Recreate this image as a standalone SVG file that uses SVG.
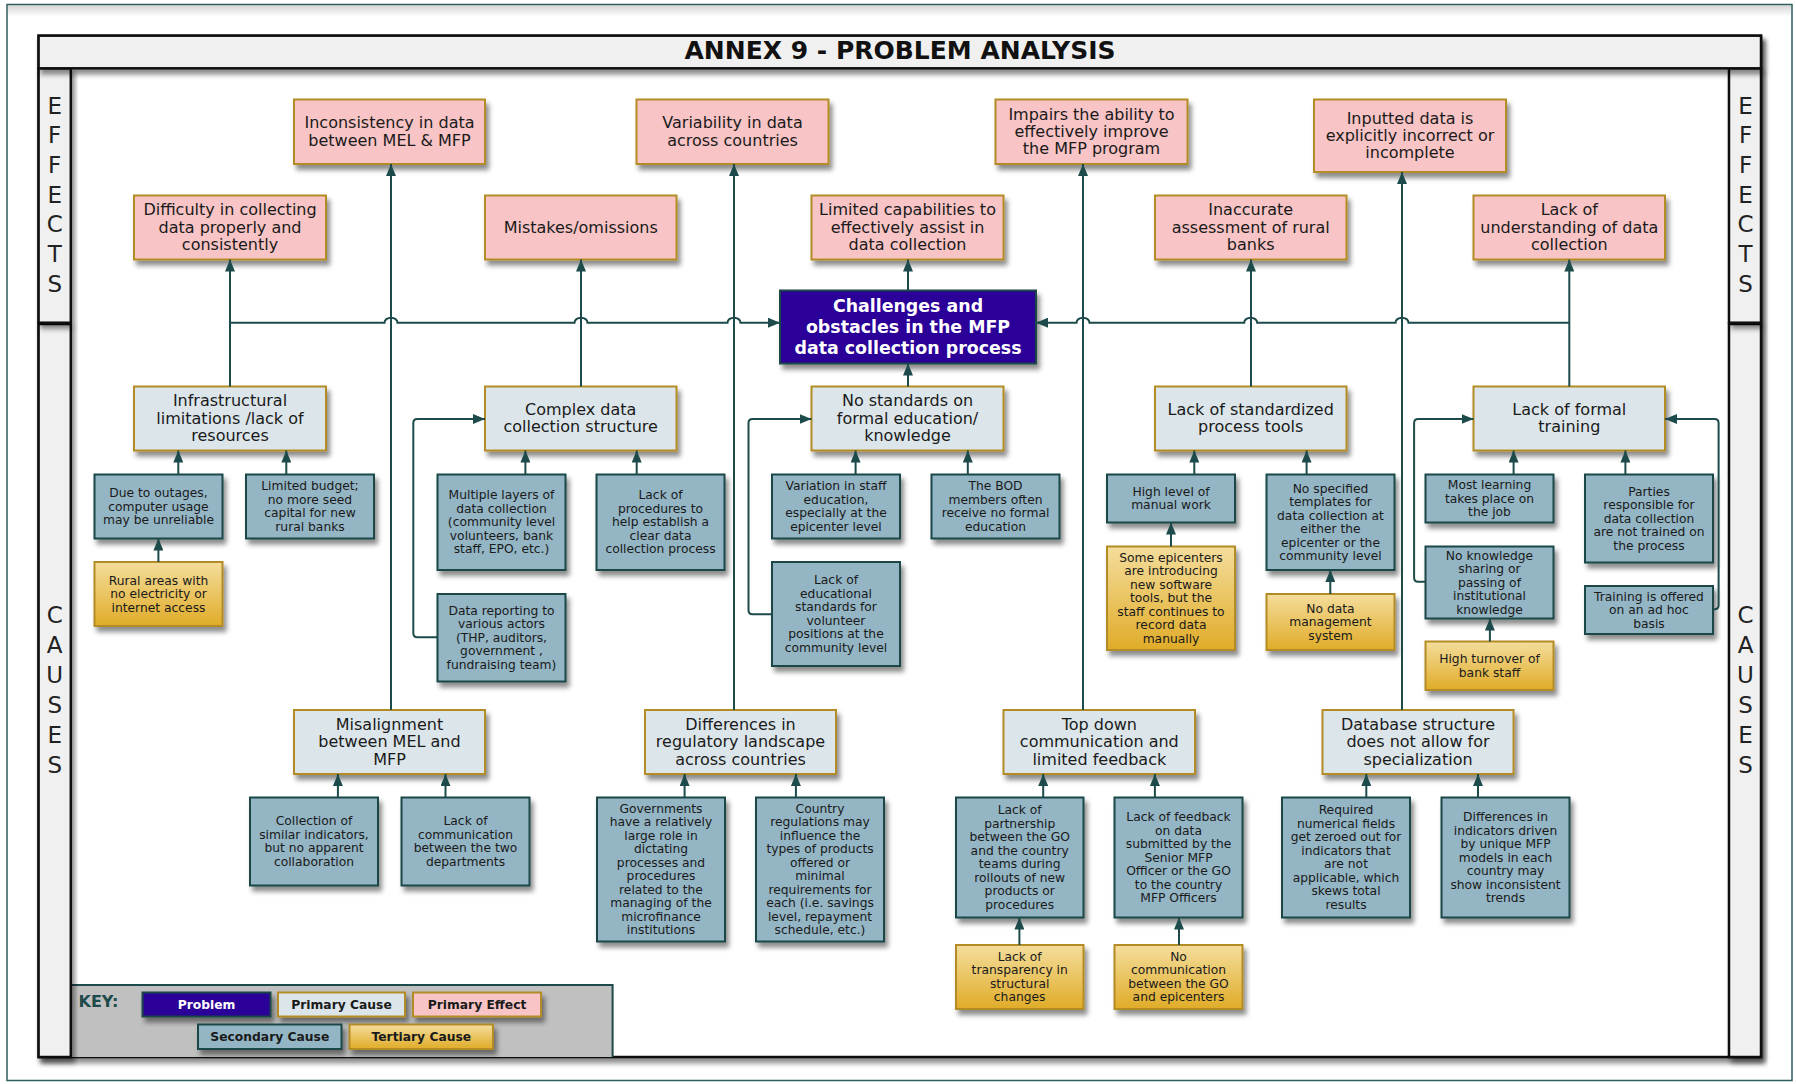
<svg xmlns="http://www.w3.org/2000/svg" width="1796" height="1084" viewBox="0 0 1796 1084">
<defs>
  <filter id="sh" x="-10%" y="-10%" width="130%" height="150%">
    <feDropShadow dx="3" dy="5" stdDeviation="2.5" flood-color="#000" flood-opacity="0.45"/>
  </filter>
  <linearGradient id="gold" x1="0" y1="0" x2="0" y2="1">
    <stop offset="0" stop-color="#f4dd9c"/>
    <stop offset="1" stop-color="#e0ac28"/>
  </linearGradient>
  <linearGradient id="topShade" x1="0" y1="0" x2="0" y2="1">
    <stop offset="0" stop-color="#d6d6d6"/>
    <stop offset="1" stop-color="#ffffff"/>
  </linearGradient>
  <marker id="ah" viewBox="0 0 12 10" refX="12" refY="5" markerWidth="12" markerHeight="10" markerUnits="userSpaceOnUse" orient="auto">
    <path d="M0,0 L12,5 L0,10 z" fill="#1d4a4a"/>
  </marker>
  <style>
    text{font-family:"DejaVu Sans",Verdana,sans-serif;text-anchor:middle;fill:#1a1a1a}
    .node>rect{filter:url(#sh)}
    .eff>rect{fill:#f8c4c5;stroke:#b48c27;stroke-width:2}
    .pc>rect{fill:#dce6ea;stroke:#b48c27;stroke-width:2}
    .sc>rect{fill:#93b5c4;stroke:#1c4646;stroke-width:2}
    .tc>rect{fill:url(#gold);stroke:#b48c27;stroke-width:2}
    .prob>rect{fill:#2a0099;stroke:#1c4646;stroke-width:2}
    .prob text{fill:#ffffff;font-weight:bold;font-size:17.4px}
    .lg text{font-size:16px}
    .sm text{font-size:12.3px}
    .key text{font-size:12.3px;font-weight:bold}
    .side text{font-size:23px;fill:#222}
    .panel{fill:#f0f0f0;stroke:#111;stroke-width:2.5;filter:url(#sh)}
    #connectors path{fill:none;stroke:#1d4a4a;stroke-width:2}
    #connectors .arr{marker-end:url(#ah)}
  </style>
</defs>

<!-- page background and border -->
<rect x="0" y="0" width="1796" height="1084" fill="#ffffff"/>
<rect x="8" y="5.5" width="1783" height="11" fill="url(#topShade)"/>
<rect x="7" y="4.5" width="1785" height="1076" fill="none" stroke="#2f5c5c" stroke-width="1.5"/>

<!-- main frame -->
<g id="frame">
  <rect x="38.6" y="35.7" width="1722.4" height="1021.3" fill="#ffffff" stroke="#111" stroke-width="2.5" filter="url(#sh)"/>
  <rect x="71" y="985" width="541.6" height="72" fill="#c0c0c0"/>
  <path d="M71,985 H612.6 V1057" fill="none" stroke="#1d4a4a" stroke-width="2"/>
  <rect class="panel" x="38.6" y="324" width="32.2" height="733"/>
  <rect class="panel" x="38.6" y="68.3" width="32.2" height="254.4"/>
  <rect class="panel" x="1729" y="324" width="32" height="733"/>
  <rect class="panel" x="1729" y="68.3" width="32" height="254.4"/>
  <rect class="panel" x="38.6" y="35.7" width="1722.4" height="32.6"/>
  <text x="900" y="59.3" style="font-size:25px;font-weight:bold;fill:#111">ANNEX 9 - PROBLEM ANALYSIS</text>
</g>

<!-- side labels -->
<g id="side-labels" class="side">
  <text x="54.7" y="113.5">E</text><text x="54.7" y="143.2">F</text><text x="54.7" y="172.9">F</text><text x="54.7" y="202.6">E</text><text x="54.7" y="232.3">C</text><text x="54.7" y="262">T</text><text x="54.7" y="291.7">S</text>
  <text x="1745.5" y="113.5">E</text><text x="1745.5" y="143.2">F</text><text x="1745.5" y="172.9">F</text><text x="1745.5" y="202.6">E</text><text x="1745.5" y="232.3">C</text><text x="1745.5" y="262">T</text><text x="1745.5" y="291.7">S</text>
  <text x="54.7" y="623.4">C</text><text x="54.7" y="653.4">A</text><text x="54.7" y="683.4">U</text><text x="54.7" y="713.4">S</text><text x="54.7" y="743.4">E</text><text x="54.7" y="773.4">S</text>
  <text x="1745.5" y="623.4">C</text><text x="1745.5" y="653.4">A</text><text x="1745.5" y="683.4">U</text><text x="1745.5" y="713.4">S</text><text x="1745.5" y="743.4">E</text><text x="1745.5" y="773.4">S</text>
</g>

<!-- key -->
<g id="key" class="key">
  <text x="78.5" y="1006.7" style="font-size:16px;text-anchor:start;fill:#1d4a4a">KEY:</text>
  <g class="node prob"><rect x="142.5" y="992.5" width="128" height="24"/><text x="206.5" y="1008.8" style="font-size:12.3px">Problem</text></g>
  <g class="node pc"><rect x="278" y="992.5" width="127" height="24"/><text x="341.5" y="1008.8">Primary Cause</text></g>
  <g class="node eff"><rect x="413" y="992.5" width="128" height="24"/><text x="477" y="1008.8">Primary Effect</text></g>
  <g class="node sc"><rect x="198" y="1024.5" width="143.5" height="24.5"/><text x="269.8" y="1041">Secondary Cause</text></g>
  <g class="node tc"><rect x="349.5" y="1024.5" width="143.5" height="24.5"/><text x="421.3" y="1041">Tertiary Cause</text></g>
</g>

<!-- problem -->
<g id="problem" class="node prob">
  <rect x="780" y="290.5" width="256" height="73"/>
  <text x="908"><tspan x="908" y="312">Challenges and</tspan><tspan x="908" y="332.8">obstacles in the MFP</tspan><tspan x="908" y="353.6">data collection process</tspan></text>
</g>

<!-- effects -->
<g id="effect-inconsistency" class="node eff lg"><rect x="294" y="99.5" width="191" height="64.5"/>
  <text><tspan x="389.5" y="128.3">Inconsistency in data</tspan><tspan x="389.5" y="145.6">between MEL &amp; MFP</tspan></text></g>
<g id="effect-variability" class="node eff lg"><rect x="636.5" y="99.5" width="192" height="64.5"/>
  <text><tspan x="732.5" y="128.3">Variability in data</tspan><tspan x="732.5" y="145.6">across countries</tspan></text></g>
<g id="effect-impairs" class="node eff lg"><rect x="995.5" y="99.5" width="192" height="64.5"/>
  <text><tspan x="1091.5" y="119.65">Impairs the ability to</tspan><tspan x="1091.5" y="136.95">effectively improve</tspan><tspan x="1091.5" y="154.25">the MFP program</tspan></text></g>
<g id="effect-inputted" class="node eff lg"><rect x="1314" y="99.5" width="192" height="72.5"/>
  <text><tspan x="1410" y="123.65">Inputted data is</tspan><tspan x="1410" y="140.95">explicitly incorrect or</tspan><tspan x="1410" y="158.25">incomplete</tspan></text></g>
<g id="effect-difficulty" class="node eff lg"><rect x="134" y="195.5" width="192" height="64"/>
  <text><tspan x="230" y="215.4">Difficulty in collecting</tspan><tspan x="230" y="232.7">data properly and</tspan><tspan x="230" y="250">consistently</tspan></text></g>
<g id="effect-mistakes" class="node eff lg"><rect x="485" y="195.5" width="191.5" height="64"/>
  <text x="580.7" y="232.7">Mistakes/omissions</text></g>
<g id="effect-limited" class="node eff lg"><rect x="811.5" y="195.5" width="192" height="64"/>
  <text><tspan x="907.5" y="215.4">Limited capabilities to</tspan><tspan x="907.5" y="232.7">effectively assist in</tspan><tspan x="907.5" y="250">data collection</tspan></text></g>
<g id="effect-inaccurate" class="node eff lg"><rect x="1155" y="195.5" width="191.5" height="64"/>
  <text><tspan x="1250.7" y="215.4">Inaccurate</tspan><tspan x="1250.7" y="232.7">assessment of rural</tspan><tspan x="1250.7" y="250">banks</tspan></text></g>
<g id="effect-understanding" class="node eff lg"><rect x="1473.5" y="195.5" width="191.5" height="64"/>
  <text><tspan x="1569.3" y="215.4">Lack of</tspan><tspan x="1569.3" y="232.7">understanding of data</tspan><tspan x="1569.3" y="250">collection</tspan></text></g>

<!-- primary causes -->
<g id="cause-infrastructure" class="node pc lg"><rect x="134" y="386.5" width="192" height="64"/>
  <text><tspan x="230" y="406.4">Infrastructural</tspan><tspan x="230" y="423.7">limitations /lack of</tspan><tspan x="230" y="441">resources</tspan></text></g>
<g id="cause-complex" class="node pc lg"><rect x="485" y="386.5" width="191.5" height="64"/>
  <text><tspan x="580.7" y="415.05">Complex data</tspan><tspan x="580.7" y="432.35">collection structure</tspan></text></g>
<g id="cause-standards" class="node pc lg"><rect x="811.5" y="386.5" width="192" height="64"/>
  <text><tspan x="907.5" y="406.4">No standards on</tspan><tspan x="907.5" y="423.7">formal education/</tspan><tspan x="907.5" y="441">knowledge</tspan></text></g>
<g id="cause-tools" class="node pc lg"><rect x="1155" y="386.5" width="191.5" height="64"/>
  <text><tspan x="1250.7" y="415.05">Lack of standardized</tspan><tspan x="1250.7" y="432.35">process tools</tspan></text></g>
<g id="cause-training" class="node pc lg"><rect x="1473.5" y="386.5" width="191.5" height="64"/>
  <text><tspan x="1569.3" y="415.05">Lack of formal</tspan><tspan x="1569.3" y="432.35">training</tspan></text></g>
<g id="cause-misalignment" class="node pc lg"><rect x="294" y="710" width="191" height="64"/>
  <text><tspan x="389.5" y="729.9">Misalignment</tspan><tspan x="389.5" y="747.2">between MEL and</tspan><tspan x="389.5" y="764.5">MFP</tspan></text></g>
<g id="cause-regulatory" class="node pc lg"><rect x="645" y="710" width="191" height="64"/>
  <text><tspan x="740.5" y="729.9">Differences in</tspan><tspan x="740.5" y="747.2">regulatory landscape</tspan><tspan x="740.5" y="764.5">across countries</tspan></text></g>
<g id="cause-topdown" class="node pc lg"><rect x="1003.5" y="710" width="191.5" height="64"/>
  <text><tspan x="1099.3" y="729.9">Top down</tspan><tspan x="1099.3" y="747.2">communication and</tspan><tspan x="1099.3" y="764.5">limited feedback</tspan></text></g>
<g id="cause-database" class="node pc lg"><rect x="1322.5" y="710" width="191" height="64"/>
  <text><tspan x="1418" y="729.9">Database structure</tspan><tspan x="1418" y="747.2">does not allow for</tspan><tspan x="1418" y="764.5">specialization</tspan></text></g>

<!-- secondary causes -->
<g id="sec-outages" class="node sc sm"><rect x="94.5" y="474.5" width="128" height="64"/>
  <text><tspan x="158.5" y="497.2">Due to outages,</tspan><tspan x="158.5" y="510.7">computer usage</tspan><tspan x="158.5" y="524.2">may be unreliable</tspan></text></g>
<g id="sec-budget" class="node sc sm"><rect x="246" y="474.5" width="128" height="64"/>
  <text><tspan x="310" y="490.45">Limited budget;</tspan><tspan x="310" y="503.95">no more seed</tspan><tspan x="310" y="517.45">capital for new</tspan><tspan x="310" y="530.95">rural banks</tspan></text></g>
<g id="sec-layers" class="node sc sm"><rect x="437.5" y="474.5" width="128" height="95.5"/>
  <text><tspan x="501.5" y="499.45">Multiple layers of</tspan><tspan x="501.5" y="512.95">data collection</tspan><tspan x="501.5" y="526.45">(community level</tspan><tspan x="501.5" y="539.95">volunteers, bank</tspan><tspan x="501.5" y="553.45">staff, EPO, etc.)</tspan></text></g>
<g id="sec-reporting" class="node sc sm"><rect x="437.5" y="594" width="128" height="87.5"/>
  <text><tspan x="501.5" y="614.95">Data reporting to</tspan><tspan x="501.5" y="628.45">various actors</tspan><tspan x="501.5" y="641.95">(THP, auditors,</tspan><tspan x="501.5" y="655.45">government ,</tspan><tspan x="501.5" y="668.95">fundraising team)</tspan></text></g>
<g id="sec-procedures" class="node sc sm"><rect x="596.5" y="474.5" width="128" height="95.5"/>
  <text><tspan x="660.5" y="499.45">Lack of</tspan><tspan x="660.5" y="512.95">procedures to</tspan><tspan x="660.5" y="526.45">help establish a</tspan><tspan x="660.5" y="539.95">clear data</tspan><tspan x="660.5" y="553.45">collection process</tspan></text></g>
<g id="sec-variation" class="node sc sm"><rect x="772" y="474.5" width="128" height="64"/>
  <text><tspan x="836" y="490.45">Variation in staff</tspan><tspan x="836" y="503.95">education,</tspan><tspan x="836" y="517.45">especially at the</tspan><tspan x="836" y="530.95">epicenter level</tspan></text></g>
<g id="sec-bod" class="node sc sm"><rect x="931.5" y="474.5" width="128" height="64"/>
  <text><tspan x="995.5" y="490.45">The BOD</tspan><tspan x="995.5" y="503.95">members often</tspan><tspan x="995.5" y="517.45">receive no formal</tspan><tspan x="995.5" y="530.95">education</tspan></text></g>
<g id="sec-volunteer" class="node sc sm"><rect x="772" y="562" width="128" height="104"/>
  <text><tspan x="836" y="584.45">Lack of</tspan><tspan x="836" y="597.95">educational</tspan><tspan x="836" y="611.45">standards for</tspan><tspan x="836" y="624.95">volunteer</tspan><tspan x="836" y="638.45">positions at the</tspan><tspan x="836" y="651.95">community level</tspan></text></g>
<g id="sec-manual" class="node sc sm"><rect x="1107" y="474.5" width="128" height="48"/>
  <text><tspan x="1171" y="495.95">High level of</tspan><tspan x="1171" y="509.45">manual work</tspan></text></g>
<g id="sec-templates" class="node sc sm"><rect x="1266.5" y="474.5" width="128" height="95.5"/>
  <text><tspan x="1330.5" y="492.7">No specified</tspan><tspan x="1330.5" y="506.2">templates for</tspan><tspan x="1330.5" y="519.7">data collection at</tspan><tspan x="1330.5" y="533.2">either the</tspan><tspan x="1330.5" y="546.7">epicenter or the</tspan><tspan x="1330.5" y="560.2">community level</tspan></text></g>
<g id="sec-onthejob" class="node sc sm"><rect x="1425.5" y="474.5" width="128" height="48"/>
  <text><tspan x="1489.5" y="489.2">Most learning</tspan><tspan x="1489.5" y="502.7">takes place on</tspan><tspan x="1489.5" y="516.2">the job</tspan></text></g>
<g id="sec-parties" class="node sc sm"><rect x="1585" y="474.5" width="128" height="88"/>
  <text><tspan x="1649" y="495.7">Parties</tspan><tspan x="1649" y="509.2">responsible for</tspan><tspan x="1649" y="522.7">data collection</tspan><tspan x="1649" y="536.2">are not trained on</tspan><tspan x="1649" y="549.7">the process</tspan></text></g>
<g id="sec-knowledge" class="node sc sm"><rect x="1425.5" y="546.5" width="128" height="72"/>
  <text><tspan x="1489.5" y="559.7">No knowledge</tspan><tspan x="1489.5" y="573.2">sharing or</tspan><tspan x="1489.5" y="586.7">passing of</tspan><tspan x="1489.5" y="600.2">institutional</tspan><tspan x="1489.5" y="613.7">knowledge</tspan></text></g>
<g id="sec-adhoc" class="node sc sm"><rect x="1585" y="586" width="128" height="48"/>
  <text><tspan x="1649" y="600.7">Training is offered</tspan><tspan x="1649" y="614.2">on an ad hoc</tspan><tspan x="1649" y="627.7">basis</tspan></text></g>
<g id="sec-indicators" class="node sc sm"><rect x="250" y="797.5" width="128" height="88"/>
  <text><tspan x="314" y="825.45">Collection of</tspan><tspan x="314" y="838.95">similar indicators,</tspan><tspan x="314" y="852.45">but no apparent</tspan><tspan x="314" y="865.95">collaboration</tspan></text></g>
<g id="sec-departments" class="node sc sm"><rect x="401.5" y="797.5" width="128" height="88"/>
  <text><tspan x="465.5" y="825.45">Lack of</tspan><tspan x="465.5" y="838.95">communication</tspan><tspan x="465.5" y="852.45">between the two</tspan><tspan x="465.5" y="865.95">departments</tspan></text></g>
<g id="sec-governments" class="node sc sm"><rect x="597" y="797.5" width="128" height="144"/>
  <text><tspan x="661" y="812.95">Governments</tspan><tspan x="661" y="826.45">have a relatively</tspan><tspan x="661" y="839.95">large role in</tspan><tspan x="661" y="853.45">dictating</tspan><tspan x="661" y="866.95">processes and</tspan><tspan x="661" y="880.45">procedures</tspan><tspan x="661" y="893.95">related to the</tspan><tspan x="661" y="907.45">managing of the</tspan><tspan x="661" y="920.95">microfinance</tspan><tspan x="661" y="934.45">institutions</tspan></text></g>
<g id="sec-regulations" class="node sc sm"><rect x="756" y="797.5" width="128" height="144"/>
  <text><tspan x="820" y="812.95">Country</tspan><tspan x="820" y="826.45">regulations may</tspan><tspan x="820" y="839.95">influence the</tspan><tspan x="820" y="853.45">types of products</tspan><tspan x="820" y="866.95">offered or</tspan><tspan x="820" y="880.45">minimal</tspan><tspan x="820" y="893.95">requirements for</tspan><tspan x="820" y="907.45">each (i.e. savings</tspan><tspan x="820" y="920.95">level, repayment</tspan><tspan x="820" y="934.45">schedule, etc.)</tspan></text></g>
<g id="sec-partnership" class="node sc sm"><rect x="956" y="797.5" width="127.5" height="120"/>
  <text><tspan x="1019.7" y="814.45">Lack of</tspan><tspan x="1019.7" y="827.95">partnership</tspan><tspan x="1019.7" y="841.45">between the GO</tspan><tspan x="1019.7" y="854.95">and the country</tspan><tspan x="1019.7" y="868.45">teams during</tspan><tspan x="1019.7" y="881.95">rollouts of new</tspan><tspan x="1019.7" y="895.45">products or</tspan><tspan x="1019.7" y="908.95">procedures</tspan></text></g>
<g id="sec-feedback" class="node sc sm"><rect x="1114.5" y="797.5" width="128" height="120"/>
  <text><tspan x="1178.5" y="821.2">Lack of feedback</tspan><tspan x="1178.5" y="834.7">on data</tspan><tspan x="1178.5" y="848.2">submitted by the</tspan><tspan x="1178.5" y="861.7">Senior MFP</tspan><tspan x="1178.5" y="875.2">Officer or the GO</tspan><tspan x="1178.5" y="888.7">to the country</tspan><tspan x="1178.5" y="902.2">MFP Officers</tspan></text></g>
<g id="sec-numerical" class="node sc sm"><rect x="1282" y="797.5" width="128" height="120"/>
  <text><tspan x="1346" y="814.45">Required</tspan><tspan x="1346" y="827.95">numerical fields</tspan><tspan x="1346" y="841.45">get zeroed out for</tspan><tspan x="1346" y="854.95">indicators that</tspan><tspan x="1346" y="868.45">are not</tspan><tspan x="1346" y="881.95">applicable, which</tspan><tspan x="1346" y="895.45">skews total</tspan><tspan x="1346" y="908.95">results</tspan></text></g>
<g id="sec-models" class="node sc sm"><rect x="1441.5" y="797.5" width="128" height="120"/>
  <text><tspan x="1505.5" y="821.2">Differences in</tspan><tspan x="1505.5" y="834.7">indicators driven</tspan><tspan x="1505.5" y="848.2">by unique MFP</tspan><tspan x="1505.5" y="861.7">models in each</tspan><tspan x="1505.5" y="875.2">country may</tspan><tspan x="1505.5" y="888.7">show inconsistent</tspan><tspan x="1505.5" y="902.2">trends</tspan></text></g>

<!-- tertiary causes -->
<g id="ter-rural" class="node tc sm"><rect x="94.5" y="562" width="128" height="64"/>
  <text><tspan x="158.5" y="584.7">Rural areas with</tspan><tspan x="158.5" y="598.2">no electricity or</tspan><tspan x="158.5" y="611.7">internet access</tspan></text></g>
<g id="ter-software" class="node tc sm"><rect x="1107" y="546.5" width="128" height="103.5"/>
  <text><tspan x="1171" y="561.95">Some epicenters</tspan><tspan x="1171" y="575.45">are introducing</tspan><tspan x="1171" y="588.95">new software</tspan><tspan x="1171" y="602.45">tools, but the</tspan><tspan x="1171" y="615.95">staff continues to</tspan><tspan x="1171" y="629.45">record data</tspan><tspan x="1171" y="642.95">manually</tspan></text></g>
<g id="ter-datamgmt" class="node tc sm"><rect x="1266.5" y="594" width="128" height="56"/>
  <text><tspan x="1330.5" y="612.7">No data</tspan><tspan x="1330.5" y="626.2">management</tspan><tspan x="1330.5" y="639.7">system</tspan></text></g>
<g id="ter-turnover" class="node tc sm"><rect x="1425.5" y="641.5" width="128" height="48.5"/>
  <text><tspan x="1489.5" y="663.2">High turnover of</tspan><tspan x="1489.5" y="676.7">bank staff</tspan></text></g>
<g id="ter-transparency" class="node tc sm"><rect x="956" y="945" width="127.5" height="64"/>
  <text><tspan x="1019.7" y="960.95">Lack of</tspan><tspan x="1019.7" y="974.45">transparency in</tspan><tspan x="1019.7" y="987.95">structural</tspan><tspan x="1019.7" y="1001.45">changes</tspan></text></g>
<g id="ter-epicenters" class="node tc sm"><rect x="1114.5" y="945" width="128" height="64"/>
  <text><tspan x="1178.5" y="960.95">No</tspan><tspan x="1178.5" y="974.45">communication</tspan><tspan x="1178.5" y="987.95">between the GO</tspan><tspan x="1178.5" y="1001.45">and epicenters</tspan></text></g>

<!-- connectors -->
<g id="connectors">
  <!-- effects bus, hopping over the long vertical links -->
  <path class="arr" d="M230,322.7 H384.5 A6.5,5 0 0 1 397.5,322.7 H574.5 A6.5,5 0 0 1 587.5,322.7 H727.5 A6.5,5 0 0 1 740.5,322.7 H780"/>
  <path class="arr" d="M1569.3,322.7 H1408.5 A6.5,5 0 0 0 1395.5,322.7 H1257.2 A6.5,5 0 0 0 1244.2,322.7 H1089.5 A6.5,5 0 0 0 1076.5,322.7 H1036"/>
  <!-- links up to effects -->
  <path class="arr" d="M230,386.5 V259.5"/>
  <path class="arr" d="M391,710 V164"/>
  <path class="arr" d="M581,386.5 V259.5"/>
  <path class="arr" d="M734,710 V164"/>
  <path class="arr" d="M908,290.5 V259.5"/>
  <path class="arr" d="M908,386.5 V363.5"/>
  <path class="arr" d="M1083,710 V164"/>
  <path class="arr" d="M1251,386.5 V259.5"/>
  <path class="arr" d="M1402,710 V172"/>
  <path class="arr" d="M1569.3,386.5 V259.5"/>
  <!-- secondary to primary -->
  <path class="arr" d="M178.3,474.5 V450.5"/>
  <path class="arr" d="M286.3,474.5 V450.5"/>
  <path class="arr" d="M158.4,562 V538.5"/>
  <path class="arr" d="M525.4,474.5 V450.5"/>
  <path class="arr" d="M437.5,637.3 H417.3 Q413.3,637.3 413.3,633.3 V423 Q413.3,419 417.3,419 H485"/>
  <path class="arr" d="M636.7,474.5 V450.5"/>
  <path class="arr" d="M855.6,474.5 V450.5"/>
  <path class="arr" d="M967.8,474.5 V450.5"/>
  <path class="arr" d="M772,614.3 H752.5 Q748.5,614.3 748.5,610.3 V423 Q748.5,419 752.5,419 H811.5"/>
  <path class="arr" d="M1194.3,474.5 V450.5"/>
  <path class="arr" d="M1171,546.5 V522.5"/>
  <path class="arr" d="M1306.6,474.5 V450.5"/>
  <path class="arr" d="M1330.3,594 V570"/>
  <path class="arr" d="M1513.6,474.5 V450.5"/>
  <path class="arr" d="M1625.4,474.5 V450.5"/>
  <path class="arr" d="M1425.5,581.7 H1418.1 Q1414.1,581.7 1414.1,577.7 V423 Q1414.1,419 1418.1,419 H1473.5"/>
  <path class="arr" d="M1489.9,641.5 V618.5"/>
  <path class="arr" d="M1713,609.3 H1714.6 Q1718.6,609.3 1718.6,605.3 V423 Q1718.6,419 1714.6,419 H1665"/>
  <path class="arr" d="M337.9,797.5 V774"/>
  <path class="arr" d="M445.5,797.5 V774"/>
  <path class="arr" d="M684.6,797.5 V774"/>
  <path class="arr" d="M795.9,797.5 V774"/>
  <path class="arr" d="M1043.2,797.5 V774"/>
  <path class="arr" d="M1154.9,797.5 V774"/>
  <path class="arr" d="M1019.4,945 V917.5"/>
  <path class="arr" d="M1179,945 V917.5"/>
  <path class="arr" d="M1366.3,797.5 V774"/>
  <path class="arr" d="M1478,797.5 V774"/>
</g>
</svg>
